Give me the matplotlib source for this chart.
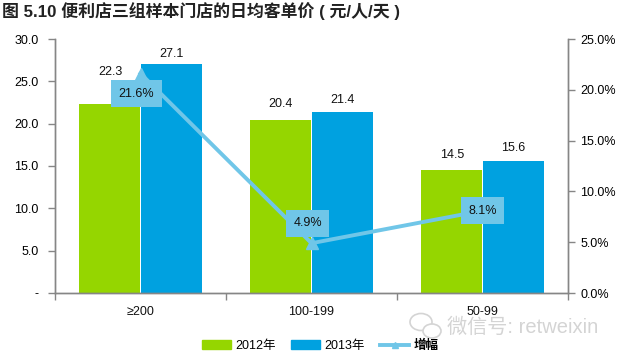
import matplotlib
matplotlib.use("Agg")
import matplotlib.pyplot as plt
import numpy as np
from matplotlib.lines import Line2D
from matplotlib.patches import Ellipse, Patch

plt.rcParams['font.family'] = ['Liberation Sans', 'Noto Sans CJK SC', 'DejaVu Sans']

categories = ['≥200', '100-199', '50-99']
values_2012 = [22.3, 20.4, 14.5]
values_2013 = [27.1, 21.4, 15.6]
growth = [21.6, 4.9, 8.1]
left_ticks = [0, 5, 10, 15, 20, 25, 30]
left_labels = ['-', '5.0', '10.0', '15.0', '20.0', '25.0', '30.0']
right_ticks = [0, 5, 10, 15, 20, 25]

GREEN = '#95D600'
BLUE = '#00A1E0'
LINE = '#70C6E8'
GREY = '#868686'
W, H = 623, 356
FS = 9

fig = plt.figure(figsize=(W / 100, H / 100), dpi=100)
ax = fig.add_axes([55 / W, (H - 293) / H, 513 / W, 254 / H])
x = np.arange(len(categories))
bw = 0.357
gap = 0.003

ax.bar(x - bw / 2 - gap, values_2012, bw, color=GREEN)
ax.bar(x + bw / 2 + gap, values_2013, bw, color=BLUE)
ax.set_xlim(-0.5, 2.5)
ax.set_ylim(0, 30)
ax.set_yticks(left_ticks)
ax.set_yticklabels(left_labels)
ax.set_xticks([-0.5, 0.5, 1.5, 2.5])
ax.set_xticklabels([])
ax.tick_params(axis='x', length=5, width=1, color=GREY)
ax.tick_params(axis='y', length=5, width=1, color=GREY, labelsize=FS, pad=7)

for i, c in enumerate(categories):
    ax.annotate(c, (x[i], 0), xytext=(0, -19), textcoords='offset pixels',
                ha='center', va='center', fontsize=FS, color='#111111')

# label heights above the bars, pixels
off_2012 = [32, 16, 15]
off_2013 = [10, 12, 13]
for i in range(len(x)):
    ax.annotate('%.1f' % values_2012[i], (x[i] - bw / 2, values_2012[i]), xytext=(0, off_2012[i]),
                textcoords='offset pixels', ha='center', va='center', fontsize=FS, color='#111111', zorder=6)
    ax.annotate('%.1f' % values_2013[i], (x[i] + bw / 2, values_2013[i]), xytext=(0, off_2013[i]),
                textcoords='offset pixels', ha='center', va='center', fontsize=FS, color='#111111', zorder=6)

ax2 = ax.twinx()
ax2.set_ylim(0, 25)
ax2.set_yticks(right_ticks)
ax2.set_yticklabels(['%.1f%%' % t for t in right_ticks])
ax2.tick_params(axis='y', length=5, width=1, color=GREY, labelsize=FS, pad=4)
ax2.plot(x, growth, color=LINE, lw=2.8, marker='^', ms=9, mec=LINE, mfc=LINE, zorder=4)

box_dx = [-4, -4, 0]
box_dy = [-20, 20, 0]
for i in range(len(x)):
    ax2.annotate('%.1f%%' % growth[i], (x[i], growth[i]), xytext=(box_dx[i], box_dy[i]),
                 textcoords='offset pixels', ha='center', va='center', fontsize=FS, color='#111111',
                 bbox=dict(boxstyle='square,pad=0.6', fc=LINE, ec='none'), zorder=5)

for a in (ax, ax2):
    a.spines['top'].set_visible(False)
    for s in ('left', 'right', 'bottom'):
        a.spines[s].set_color(GREY)
        a.spines[s].set_linewidth(1)

fig.text(2 / W, 1 - 11 / H, '图 5.10 便利店三组样本门店的日均客单价 ( 元/人/天 )',
         fontsize=12.2, fontweight='bold', color='#222222', va='center', ha='left')

handles = [Patch(color=GREEN, label='2012年'), Patch(color=BLUE, label='2013年'),
           Line2D([0], [0], color=LINE, lw=2.8, marker='^', ms=5, label='增幅')]
leg = fig.legend(handles=handles, ncol=3, frameon=False, loc='center left',
                 bbox_to_anchor=(202 / W, 1 - 346 / H), fontsize=FS, handlelength=2.3, handleheight=0.7,
                 handletextpad=0.35, columnspacing=1.25, borderpad=0, borderaxespad=0)
leg.get_texts()[2].set_fontweight('bold')

# watermark
fig.text(447 / W, 1 - 327 / H, '微信号: retweixin', fontsize=14.5, color='#D4D4D4', va='center', ha='left', zorder=10)
for cx, cy, ew, eh in [(421, 322, 22, 17), (432, 331, 18, 14)]:
    fig.add_artist(Ellipse((cx / W, 1 - cy / H), ew / W, eh / H, fc='white', ec='#D4D4D4', lw=1.2,
                           transform=fig.transFigure))

fig.savefig('out.png', dpi=100)
